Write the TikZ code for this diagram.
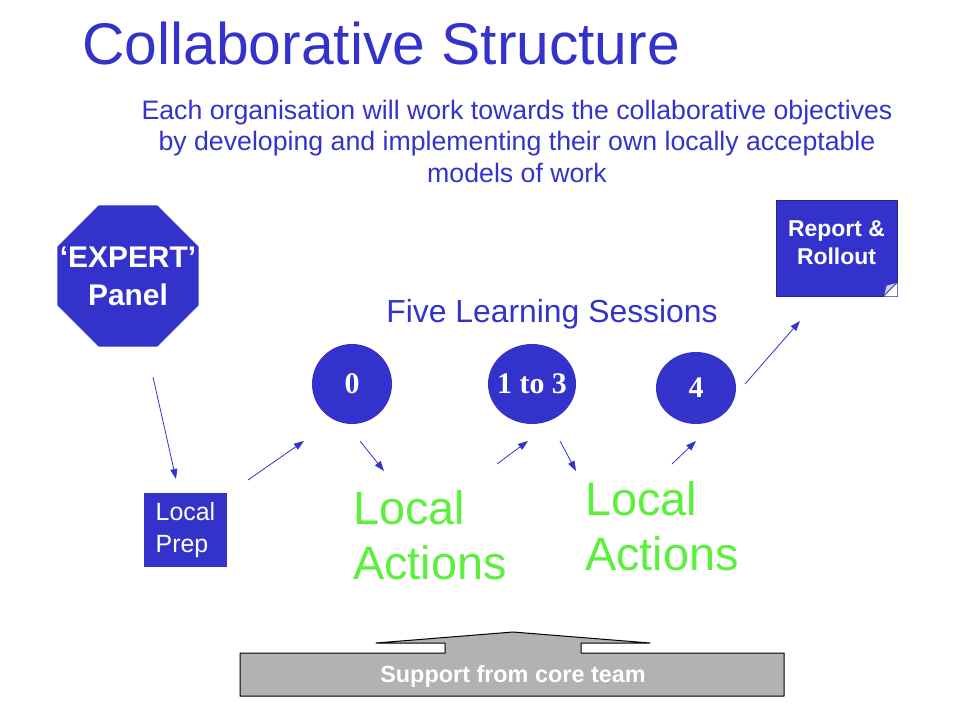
\documentclass[tikz,border=0pt]{standalone}
\usepackage{fontspec}
\setmainfont{Liberation Sans}
\newfontfamily\sessfont{Liberation Serif}
\usetikzlibrary{shapes.geometric,arrows.meta}
\definecolor{slideblue}{RGB}{51,51,204}
\definecolor{actgreen}{RGB}{90,240,60}
\definecolor{coregray}{RGB}{178,178,178}
\begin{document}
\begin{tikzpicture}[x=1bp,y=-1bp,>={Triangle[length=10bp,width=7bp]},line join=round,
	arr/.style={->,slideblue,line width=.8bp},
	bluebox/.style={fill=slideblue,text=white,inner sep=0pt},
	session/.style={ellipse,fill=slideblue,text=white,inner sep=0pt,font=\sessfont\bfseries\fontsize{30}{36}\selectfont},
	acts/.style={text=actgreen,align=left,inner sep=0pt,anchor=west,font=\fontsize{47}{55}\selectfont}]
	\useasboundingbox (0,0) rectangle (960,720);
	\node[anchor=base west,text=slideblue,inner sep=0pt,font=\fontsize{59}{70}\selectfont] (title) at (82,65) {Collaborative Structure};
	\node[anchor=north,text=slideblue,align=center,inner sep=0pt,font=\fontsize{26.8}{31.5}\selectfont] (intro) at (517,100) {Each organisation will work towards the collaborative objectives\\by developing and implementing their own locally acceptable\\models of work};
	\node[regular polygon,regular polygon sides=8,minimum size=153bp,bluebox] (expert) at (128,276) {};
	\node[text=white,align=center,inner sep=0pt,font=\bfseries\fontsize{30}{38}\selectfont] (expertlbl) at (expert) {‘EXPERT’\\Panel};
	\node[bluebox,draw=slideblue!70!black,line width=.6bp,minimum width=121bp,minimum height=96bp] (report) at (836.5,248) {};
	\node[text=white,align=center,inner sep=0pt,font=\bfseries\fontsize{23}{28}\selectfont] (reportlbl) at ([yshift=5bp]report.center) {Report \&\\Rollout};
	\fill[white] ([xshift=-14bp]report.south east) -- (report.south east) -- ([yshift=14bp]report.south east) -- cycle;
	\filldraw[fill=slideblue!25!white,draw=slideblue!70!black,line width=.6bp] ([xshift=-14bp]report.south east) -- ([xshift=-11bp,yshift=11bp]report.south east) -- ([yshift=14bp]report.south east) -- cycle;
	\node[text=slideblue,inner sep=0pt,font=\fontsize{32}{36}\selectfont] (five) at (552,314) {Five Learning Sessions};
	\node[session,minimum width=80bp,minimum height=80bp] (s0) at (352,384) {0};
	\node[session,inner xsep=-12bp,minimum width=88bp,minimum height=80bp] (s13) at (532,384) {1 to 3};
	\node[session,minimum width=80bp,minimum height=72bp] (s4) at (696,388) {4};
	\node[bluebox,minimum width=83bp,minimum height=74bp,align=left,font=\fontsize{25}{32}\selectfont] (prep) at (185.5,530) {Local\\Prep};
	\node[acts] (act1) at (353,535) {Local\\Actions};
	\node[acts] (act2) at (585,526) {Local\\Actions};
	\coordinate (tail1) at (153,377); \coordinate (tip1) at (176,479);
	\coordinate (tail2) at (248,480); \coordinate (tip2) at (304,441);
	\coordinate (tail3) at (360,441); \coordinate (tip3) at (384,471);
	\coordinate (tail4) at (497,464); \coordinate (tip4) at (528,441);
	\coordinate (tail5) at (560,441); \coordinate (tip5) at (576,471);
	\coordinate (tail6) at (672,464); \coordinate (tip6) at (696,441);
	\coordinate (tail7) at (745,384); \coordinate (tip7) at (800,321);
	\foreach \i in {1,...,7} \draw[arr] (tail\i) -- (tip\i);
	\filldraw[fill=coregray,draw=black,line width=1bp] (240,653) -- (445,653) -- (445,643) -- (376,643) -- (513,632) -- (650,643) -- (581,643) -- (581,653) -- (784,653) -- (784,696) -- (240,696) -- cycle;
	\node[text=white,inner sep=0pt,font=\bfseries\fontsize{23.5}{28}\selectfont] (support) at (513,676) {Support from core team};
\end{tikzpicture}
\end{document}
